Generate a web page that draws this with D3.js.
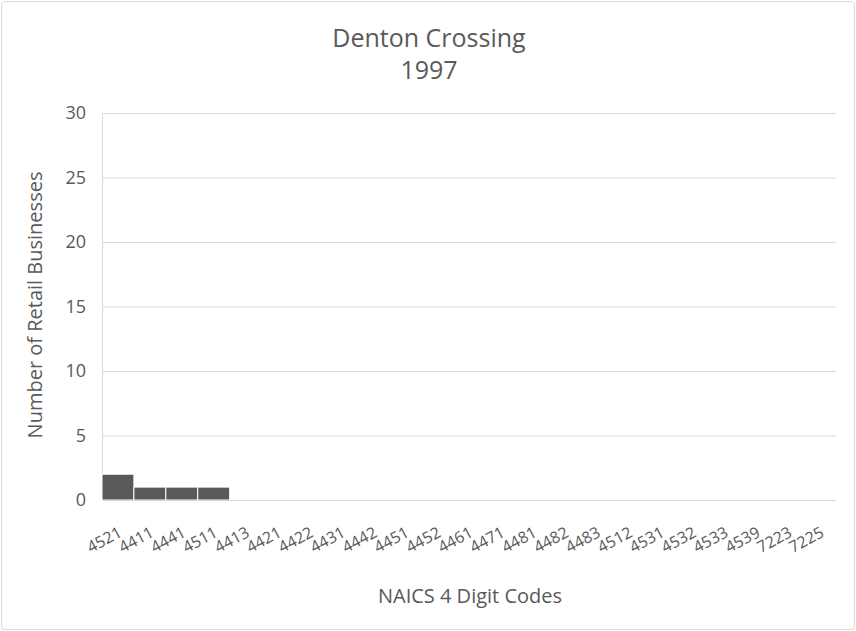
<!DOCTYPE html>
<html>
<head>
<meta charset="utf-8">
<script src="https://cdn.jsdelivr.net/npm/d3@7"></script>
<style>
  html, body { margin: 0; padding: 0; background: #fff; }
  svg { display: block; font-family: "Open Sans", Lato, sans-serif; }
</style>
</head>
<body>
<svg id="chart" width="856" height="631"></svg>
<script>
// NAICS codes and retail business counts
const codes = ["4521","4411","4441","4511","4413","4421","4422","4431","4442","4451","4452","4461",
               "4471","4481","4482","4483","4512","4531","4532","4533","4539","7223","7225"];
const counts = [2,1,1,1,0,0,0,0,0,0,0,0,0,0,0,0,0,0,0,0,0,0,0];
const yTicks = [0,5,10,15,20,25,30];

const svg = d3.select("#chart");
const W = 856, H = 631;
const m = { left: 102, right: 20, top: 113, bottom: 131 };
const ink = "#595959";

// outer frame
svg.append("rect").attr("x", 1.5).attr("y", 1.5).attr("width", W - 3).attr("height", H - 3)
  .attr("rx", 3).attr("fill", "#fff").attr("stroke", "#d9d9d9");

const x = d3.scaleBand().domain(codes).range([m.left, W - m.right]).padding(0);
const y = d3.scaleLinear().domain([0, 30]).range([H - m.bottom, m.top]);

// gridlines
svg.append("g").selectAll("line").data(yTicks).join("line")
  .attr("x1", m.left).attr("x2", W - m.right)
  .attr("y1", d => y(d) + 0.5).attr("y2", d => y(d) + 0.5)
  .attr("stroke", "#d9d9d9").attr("stroke-width", 1);

// y axis line
svg.append("line").attr("x1", m.left + 0.5).attr("x2", m.left + 0.5)
  .attr("y1", y(30)).attr("y2", y(0)).attr("stroke", "#d9d9d9");

// bars
svg.append("g").selectAll("rect").data(codes).join("rect")
  .attr("x", d => x(d))
  .attr("width", x.bandwidth())
  .attr("y", (d, i) => y(counts[i]))
  .attr("height", (d, i) => y(0) - y(counts[i]))
  .attr("fill", ink).attr("stroke", "#fff").attr("stroke-width", 1);

// y tick labels
const yAxis = d3.axisLeft(y).tickValues(yTicks).tickSize(0).tickPadding(16);
const gy = svg.append("g").attr("transform", `translate(${m.left},0)`).call(yAxis);
gy.select(".domain").remove();
gy.selectAll("text").attr("font-size", 18).attr("fill", ink)
  .attr("font-family", "'Open Sans', Lato, sans-serif");

// x tick labels, slanted
const xAxis = d3.axisBottom(x).tickSize(0).tickPadding(0);
const gx = svg.append("g").attr("transform", `translate(0,${y(0)})`).call(xAxis);
gx.select(".domain").attr("stroke", "#d9d9d9");
gx.selectAll("text")
  .attr("font-size", 16).attr("fill", ink)
  .attr("font-family", "'Open Sans', Lato, sans-serif")
  .attr("text-anchor", "end")
  .attr("dy", 0).attr("y", 0)
  .attr("transform", "translate(5,36) rotate(-28)");

// titles
svg.append("text").attr("x", 429).attr("y", 47).attr("text-anchor", "middle")
  .attr("font-size", 25).attr("fill", ink).text("Denton Crossing");
svg.append("text").attr("x", 429).attr("y", 79).attr("text-anchor", "middle")
  .attr("font-size", 25).attr("fill", ink).text("1997");

// axis titles
svg.append("text").attr("x", 470).attr("y", 603).attr("text-anchor", "middle")
  .attr("font-size", 20).attr("fill", ink).text("NAICS 4 Digit Codes");
svg.append("text").attr("transform", "translate(42,305) rotate(-90)").attr("text-anchor", "middle")
  .attr("font-size", 20).attr("fill", ink).text("Number of Retail Businesses");
</script>
</body>
</html>
